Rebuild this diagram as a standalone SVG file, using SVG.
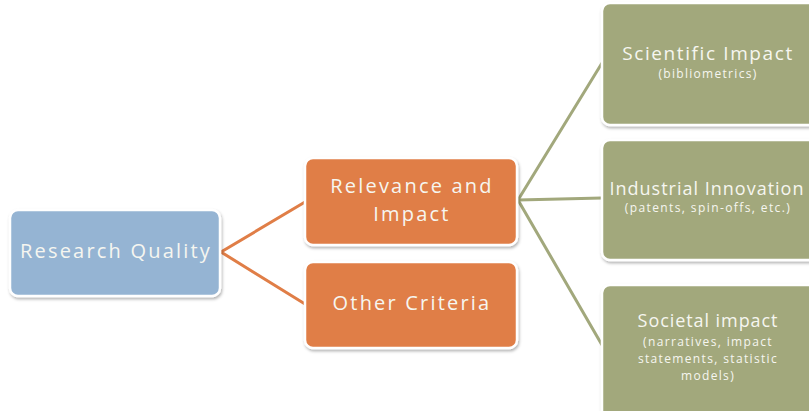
<svg xmlns="http://www.w3.org/2000/svg" width="809" height="411" viewBox="0 0 809 411">
<defs>
<filter id="sh" x="-10%" y="-10%" width="125%" height="130%">
<feDropShadow dx="1" dy="2" stdDeviation="1.5" flood-color="#000" flood-opacity="0.3"/>
</filter>
<style>
.box{stroke:#fff;stroke-width:2.5;filter:url(#sh)}
.blue{fill:#95B4D3}
.orange{fill:#E07E47}
.green{fill:#A2A87C}
.t{font-family:"Open Sans","DejaVu Sans",sans-serif;fill:#F6F6F0;text-anchor:middle}
.big{font-size:20px;letter-spacing:2.2px}
.med{font-size:18px;letter-spacing:1px}
.sm{font-size:12px;letter-spacing:1.4px}
.sm2{font-size:12px;letter-spacing:1.35px}
.co{stroke:#E07E47;stroke-width:3;fill:none}
.cg{stroke:#A2A87C;stroke-width:3;fill:none}
</style>
</defs>
<rect width="809" height="411" fill="#fff"/>
<g id="connectors">
<polyline class="co" points="305,202 221,252 305,304"/>
<polyline class="cg" points="602,63 518,200 602,345"/>
<line class="cg" x1="518" y1="200" x2="602" y2="198"/>
</g>
<g id="research-quality">
<rect class="box blue" x="10" y="210" width="210" height="86" rx="8"/>
<text class="t big" x="116" y="258">Research Quality</text>
</g>
<g id="relevance-impact">
<rect class="box orange" x="305" y="158" width="212" height="87" rx="8"/>
<text class="t big" x="412" y="193">Relevance and</text>
<text class="t big" x="412" y="221">Impact</text>
</g>
<g id="other-criteria">
<rect class="box orange" x="305" y="262" width="212" height="86" rx="8"/>
<text class="t big" x="412" y="310">Other Criteria</text>
</g>
<g id="scientific-impact">
<rect class="box green" x="602" y="3" width="216" height="122" rx="8"/>
<text class="t big" style="font-size:19px;letter-spacing:1.6px" x="708" y="60">Scientific Impact</text>
<text class="t sm" style="letter-spacing:1.3px" x="708" y="78">(bibliometrics)</text>
</g>
<g id="industrial-innovation">
<rect class="box green" x="602" y="140" width="216" height="120" rx="8"/>
<text class="t med" x="707" y="195">Industrial Innovation</text>
<text class="t sm" x="708" y="212">(patents, spin-offs, etc.)</text>
</g>
<g id="societal-impact">
<rect class="box green" x="602" y="285" width="216" height="135" rx="8"/>
<text class="t med" style="letter-spacing:0.93px" x="708" y="327">Societal impact</text>
<text class="t sm2" x="708" y="346">(narratives, impact</text>
<text class="t sm2" x="708" y="363">statements, statistic</text>
<text class="t sm2" x="708" y="380">models)</text>
</g>
</svg>
